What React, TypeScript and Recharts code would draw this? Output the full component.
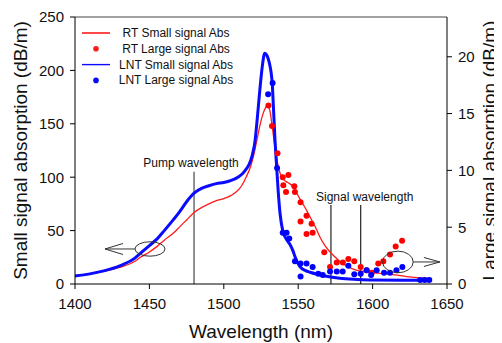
import React from 'react';
import {
  ComposedChart,
  Line,
  Scatter,
  XAxis,
  YAxis,
  ReferenceLine,
  ReferenceDot,
  Legend,
} from 'recharts';

const FONT = '"Liberation Sans", Arial, sans-serif';

// Axis ticks
const xTicks = [1400, 1450, 1500, 1550, 1600, 1650];
const leftTicks = [0, 50, 100, 150, 200, 250];
const rightTicks = [0, 5, 10, 15, 20];

// RT small signal absorption (dB/m), left axis
const rtSmallWl = [1400, 1410, 1420, 1430, 1440, 1444, 1450, 1455, 1460, 1466, 1470, 1475, 1480, 1485, 1490, 1495, 1500, 1505, 1509, 1512, 1515, 1518, 1520, 1522, 1524.5, 1526.5, 1528.5, 1529.7, 1531, 1532.4, 1534.4, 1536.6, 1538, 1540, 1543, 1546.7, 1549, 1552.3, 1556, 1559, 1562, 1564.6, 1568, 1571.4, 1575, 1578, 1583, 1589, 1595, 1605, 1615, 1623, 1640];
const rtSmallAbs = [8, 9.5, 12, 15.5, 21, 25, 30, 35, 41, 47.5, 53, 60, 67, 71.5, 75, 78, 80, 83, 87, 92, 100, 110, 120, 133, 150, 160, 166, 167.5, 162, 149, 128, 110, 103, 98, 95, 91, 85, 77, 68, 60, 52, 44, 36, 30, 25, 21, 16.5, 13, 11.5, 10, 8.5, 7, 5.3];

// LNT small signal absorption (dB/m), left axis
const lntSmallWl = [1400, 1410, 1420, 1430, 1440, 1445, 1450, 1455, 1460, 1466, 1470, 1475, 1480, 1485, 1490, 1495, 1500, 1505, 1510, 1513, 1515, 1517, 1519, 1521, 1522.5, 1524.3, 1525.8, 1527.5, 1529, 1530.6, 1531.8, 1532.6, 1533.3, 1534.4, 1535.5, 1536.6, 1537.8, 1539.6, 1542, 1544.5, 1546.5, 1548, 1551, 1555, 1558, 1563, 1567, 1578, 1590, 1600, 1620, 1640];
const lntSmallAbs = [7.5, 9.5, 12.5, 17, 24, 30, 36, 42, 50, 60, 67, 77, 85, 89.5, 92, 94, 95, 97, 100.5, 104, 107.5, 112, 120, 134, 155, 183, 203, 216, 214, 207, 198, 187, 167, 135, 110, 86, 66, 50, 42, 37, 31, 25, 16.5, 12.5, 11, 9, 7.8, 5.3, 4.3, 3.8, 3.6, 3.6];

// RT large signal absorption (dB/m), right axis
const rtLargeWl = [1530, 1532.4, 1536.1, 1539.6, 1540, 1541.8, 1543.4, 1547.4, 1547.8, 1551.6, 1551.6, 1555.6, 1555.6, 1559, 1559.7, 1567.5, 1571.4, 1575.9, 1580, 1583.7, 1587.7, 1592, 1596, 1599.5, 1603.8, 1607.2, 1611.7, 1615.5, 1619.8];
const rtLargeAbs = [15.7, 13.9, 11.5, 9.4, 8.7, 8.1, 9.6, 8.6, 8.1, 7.2, 5.5, 6.0, 4.4, 5.3, 4.5, 2.8, 1.5, 1.9, 1.9, 2.2, 2.0, 1.5, 1.2, 1.0, 1.8, 2.0, 2.6, 3.3, 3.8];

// LNT large signal absorption (dB/m), right axis
const lntLargeWl = [1529.8, 1532.8, 1535.8, 1539.6, 1542.2, 1544, 1547.8, 1551.6, 1551.6, 1555.6, 1559.7, 1563.5, 1566.5, 1571.4, 1575.9, 1579.9, 1583.7, 1587.7, 1592, 1596, 1599, 1602.7, 1607.7, 1611.7, 1616, 1620, 1632, 1635, 1638];
const lntLargeAbs = [16.7, 17.7, 10.2, 4.5, 4.5, 4.0, 2.0, 1.8, 0.65, 1.8, 1.5, 0.9, 0.8, 1.1, 1.1, 1.1, 1.6, 0.85, 0.9, 1.2, 0.8, 1.2, 1.0, 1.0, 1.2, 1.5, 0.35, 0.35, 0.35];

const zip = (xs: number[], ys: number[]) => xs.map((x, i) => ({ x, y: ys[i] }));

const rtSmall = zip(rtSmallWl, rtSmallAbs);
const lntSmall = zip(lntSmallWl, lntSmallAbs);
const rtLarge = zip(rtLargeWl, rtLargeAbs);
const lntLarge = zip(lntLargeWl, lntLargeAbs);

const RED = '#ff1a1a';
const BLUE = '#0a0aff';

const legendItems = [
  { name: 'RT Small signal Abs', color: RED, kind: 'line', w: 1.6 },
  { name: 'RT Large signal Abs', color: RED, kind: 'dot', w: 0 },
  { name: 'LNT Small signal Abs', color: BLUE, kind: 'line', w: 1.4 },
  { name: 'LNT Large signal Abs', color: BLUE, kind: 'dot', w: 0 },
];

const LegendBox = () => (
  <svg width={180} height={80} style={{ display: 'block' }}>
    {legendItems.map((it, i) => {
      const y = 15 + i * 15.8;
      return (
        <g key={it.name}>
          {it.kind === 'line' ? (
            <line x1={7} x2={35} y1={y} y2={y} stroke={it.color} strokeWidth={it.w} />
          ) : (
            <circle cx={21} cy={y} r={2.8} fill={it.color} />
          )}
          <text x={101} y={y} textAnchor="middle" dominantBaseline="central" fontSize={12} fontFamily={FONT} fill="#111">
            {it.name}
          </text>
        </g>
      );
    })}
  </svg>
);

const leftLabel = (props: any) => {
  const vb = props.viewBox || { x: 0, y: 9, width: 67, height: 267 };
  const x = vb.x + 12;
  const y = vb.y + vb.height / 2;
  return (
    <text x={x} y={y} transform={`rotate(-90 ${x} ${y})`} textAnchor="middle" dominantBaseline="central" fontSize={19} fontFamily={FONT} fill="#111">
      Small signal absorption (dB/m)
    </text>
  );
};

const rightLabel = (props: any) => {
  const vb = props.viewBox || { x: 439, y: 9, width: 55, height: 267 };
  const x = vb.x + 42;
  const y = vb.y + vb.height / 2;
  return (
    <text x={x} y={y} transform={`rotate(-90 ${x} ${y})`} textAnchor="middle" dominantBaseline="central" fontSize={19} fontFamily={FONT} fill="#111">
      Large signal absorption (dB/m)
    </text>
  );
};

const bottomLabel = (props: any) => {
  const vb = props.viewBox || { x: 67, y: 276, width: 372, height: 59 };
  return (
    <text x={vb.x + vb.width / 2} y={vb.y + 54} textAnchor="middle" fontSize={19} fontFamily={FONT} fill="#111">
      Wavelength (nm)
    </text>
  );
};

const redDot = (p: any) => <circle cx={p.cx} cy={p.cy} r={3} fill="#ff0000" />;
const blueDot = (p: any) => <circle cx={p.cx} cy={p.cy} r={3} fill="#0000ff" />;

const pumpText = (p: any) => (
  <text x={p.cx - 3} y={p.cy - 5} textAnchor="middle" fontSize={12} fontFamily={FONT} fill="#111">
    Pump wavelength
  </text>
);

const signalText = (p: any) => (
  <text x={p.cx + 4} y={p.cy - 4} textAnchor="middle" fontSize={12} fontFamily={FONT} fill="#111">
    Signal wavelength
  </text>
);

const leftMarker = (p: any) => {
  const { cx, cy } = p;
  return (
    <g fill="none" stroke="#333" strokeWidth={1}>
      <ellipse cx={cx} cy={cy} rx={15} ry={7.2} />
      <path d={`M ${cx - 15} ${cy} L ${cx - 45} ${cy}`} />
      <path d={`M ${cx - 27} ${cy - 5.5} L ${cx - 45} ${cy} L ${cx - 27} ${cy + 5.5}`} />
    </g>
  );
};

const rightMarker = (p: any) => {
  const { cx, cy } = p;
  return (
    <g fill="none" stroke="#333" strokeWidth={1}>
      <ellipse cx={cx} cy={cy} rx={15.3} ry={10.8} />
      <path d={`M ${cx + 15.3} ${cy} L ${cx + 42} ${cy}`} />
      <path d={`M ${cx + 26} ${cy - 4.5} L ${cx + 42} ${cy} L ${cx + 26} ${cy + 4.5}`} />
    </g>
  );
};

export default function App() {
  return (
    <div style={{ width: 494, height: 335 }}>
      <ComposedChart width={494} height={335} margin={{ top: 9, right: 0, bottom: 0, left: 0 }}>
        <XAxis
          type="number"
          dataKey="x"
          domain={[1400, 1650]}
          ticks={xTicks}
          interval={0}
          allowDataOverflow
          height={59}
          tickSize={5}
          tickMargin={9}
          stroke="#000"
          tick={{ fill: '#111', fontSize: 15, fontFamily: FONT }}
          label={{ content: bottomLabel }}
        />
        <YAxis
          yAxisId="left"
          orientation="left"
          dataKey="y"
          type="number"
          domain={[0, 250]}
          ticks={leftTicks}
          interval={0}
          allowDataOverflow
          width={67}
          tickSize={5}
          tickMargin={6}
          stroke="#000"
          tick={{ fill: '#111', fontSize: 15, fontFamily: FONT }}
          label={{ content: leftLabel }}
        />
        <YAxis
          yAxisId="right"
          orientation="right"
          dataKey="y"
          type="number"
          domain={[0, 23.5]}
          ticks={rightTicks}
          interval={0}
          allowDataOverflow
          width={55}
          tickSize={5}
          tickMargin={6}
          stroke="#000"
          tick={{ fill: '#111', fontSize: 15, fontFamily: FONT }}
          label={{ content: rightLabel }}
        />
        <ReferenceLine yAxisId="left" y={250} stroke="#444" strokeWidth={1} ifOverflow="visible" />
        <ReferenceLine
          yAxisId="left"
          segment={[{ x: 1480, y: 0 }, { x: 1480, y: 105 }]}
          stroke="#555"
          strokeWidth={1.3}
        />
        <ReferenceLine
          yAxisId="left"
          segment={[{ x: 1572, y: 0 }, { x: 1572, y: 74 }]}
          stroke="#222"
          strokeWidth={1.2}
        />
        <ReferenceLine
          yAxisId="left"
          segment={[{ x: 1592, y: 0 }, { x: 1592, y: 74 }]}
          stroke="#222"
          strokeWidth={1.2}
        />
        <Line
          data={rtSmall}
          yAxisId="left"
          dataKey="y"
          name="RT Small signal Abs"
          type="monotone"
          stroke={RED}
          strokeWidth={1.3}
          dot={false}
          isAnimationActive={false}
        />
        <Scatter
          data={rtLarge}
          yAxisId="right"
          dataKey="y"
          name="RT Large signal Abs"
          fill="#ff0000"
          shape={redDot}
          isAnimationActive={false}
        />
        <Line
          data={lntSmall}
          yAxisId="left"
          dataKey="y"
          name="LNT Small signal Abs"
          type="monotone"
          stroke={BLUE}
          strokeWidth={3}
          dot={false}
          isAnimationActive={false}
        />
        <Scatter
          data={lntLarge}
          yAxisId="right"
          dataKey="y"
          name="LNT Large signal Abs"
          fill="#0000ff"
          shape={blueDot}
          isAnimationActive={false}
        />
        <ReferenceDot yAxisId="left" x={1480} y={105} r={0} shape={pumpText} />
        <ReferenceDot yAxisId="left" x={1592} y={74} r={0} shape={signalText} />
        <ReferenceDot yAxisId="left" x={1450.4} y={32.8} r={0} shape={leftMarker} />
        <ReferenceDot yAxisId="right" x={1617} y={1.94} r={0} shape={rightMarker} />
        <Legend
          layout="vertical"
          align="center"
          verticalAlign="middle"
          wrapperStyle={{ left: 67, top: 10, width: 180, height: 80 }}
          content={() => <LegendBox />}
        />
      </ComposedChart>
    </div>
  );
}
